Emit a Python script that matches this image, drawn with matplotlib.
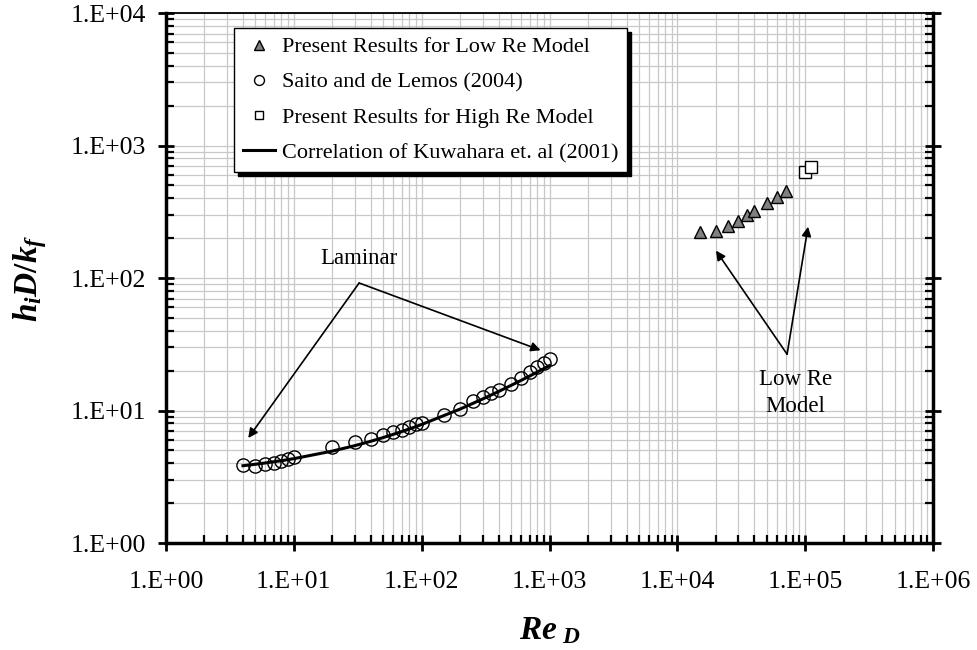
import numpy as np
import matplotlib
matplotlib.use("Agg")
from matplotlib import pyplot as plt
from matplotlib.ticker import LogLocator, FuncFormatter, NullFormatter

plt.rcParams['font.family'] = ['Liberation Serif', 'DejaVu Serif']
plt.rcParams['mathtext.fontset'] = 'custom'
plt.rcParams['mathtext.it'] = 'Liberation Serif:italic:bold'
plt.rcParams['mathtext.rm'] = 'Liberation Serif:bold'
plt.rcParams['mathtext.bf'] = 'Liberation Serif:bold'

# Saito and de Lemos (2004)
re_saito = [4, 5, 6, 7, 8, 9, 10, 20, 30, 40, 50, 60, 70, 80, 90, 100,
            150, 200, 250, 300, 350, 400, 500, 600, 700, 800, 900, 1000]
nu_saito = [3.90, 3.83, 3.95, 3.99, 4.14, 4.28, 4.46, 5.33, 5.75, 6.13, 6.50, 6.85,
            7.17, 7.55, 7.87, 8.0, 9.25, 10.3, 11.8, 12.6, 13.5, 14.3, 15.9, 17.5,
            19.5, 21.2, 23.0, 24.6]

# correlation of Kuwahara et al (2001)
re_corr = [4, 5, 6, 7, 8, 9, 10, 20, 30, 40, 50, 60, 70, 80, 90, 100,
           200, 300, 400, 500, 600, 700, 800, 900, 1000]
nu_corr = [3.83, 3.93, 4.02, 4.11, 4.18, 4.26, 4.33, 4.94, 5.43, 5.86, 6.25, 6.61,
           6.94, 7.26, 7.56, 7.85, 10.26, 12.22, 13.93, 15.48, 16.90, 18.23,
           19.49, 20.69, 21.83]

# present results
re_low = [15000, 20000, 25000, 30000, 35000, 40000, 50000, 60000, 70000]
nu_low = [221, 228, 245, 271, 299, 320, 366, 406, 454]
re_high = [100000, 110000]
nu_high = [630, 690]

fig = plt.figure(figsize=(9.78, 6.5), dpi=100)
ax = fig.add_axes([0.1697, 0.1646, 0.7845, 0.8154])
ax.set_xscale('log')
ax.set_yscale('log')
ax.set_xlim(1, 1e6)
ax.set_ylim(1, 1e4)

ax.grid(True, which='both', color='#c8c8c8', lw=0.9, zorder=0)
ax.set_axisbelow(True)

ax.plot(re_low, nu_low, '^', ms=9, mfc='#808080', mec='black', mew=1.0,
        label='Present Results for Low Re Model', zorder=4)
ax.plot(re_saito, nu_saito, 'o', ms=9.5, mfc='none', mec='black', mew=1.0,
        label='Saito and de Lemos (2004)', zorder=3)
ax.plot(re_high, nu_high, 's', ms=8, mfc='white', mec='black', mew=1.0,
        label='Present Results for High Re Model', zorder=4)
ax.plot(re_corr, nu_corr, '-', color='black', lw=2.2,
        label='Correlation of Kuwahara et. al (2001)', zorder=3)

# annotations
arr = dict(arrowstyle='-|>', color='black', lw=1.2, mutation_scale=14, shrinkA=0, shrinkB=0)
ax.annotate('', xy=(4.4, 6.2), xytext=(32.4, 91.7), arrowprops=arr)
ax.annotate('', xy=(850, 28.5), xytext=(32.4, 91.7), arrowprops=arr)
ax.text(32, 116, 'Laminar', ha='center', va='bottom', fontsize=16.5)

ax.annotate('', xy=(20000, 161), xytext=(72000, 26.6), arrowprops=arr)
ax.annotate('', xy=(105000, 244), xytext=(72000, 26.6), arrowprops=arr)
ax.text(83500, 13.6, 'Low Re\nModel', ha='center', va='center', fontsize=16.5,
        linespacing=1.4)

ax.xaxis.set_major_locator(LogLocator(base=10, numticks=10))
ax.yaxis.set_major_locator(LogLocator(base=10, numticks=10))
ax.xaxis.set_minor_locator(LogLocator(base=10, subs=np.arange(2, 10), numticks=20))
ax.yaxis.set_minor_locator(LogLocator(base=10, subs=np.arange(2, 10), numticks=20))
fmt = FuncFormatter(lambda v, _: '1.E+%02d' % int(round(np.log10(v))))
ax.xaxis.set_major_formatter(fmt)
ax.yaxis.set_major_formatter(fmt)
ax.xaxis.set_minor_formatter(NullFormatter())
ax.yaxis.set_minor_formatter(NullFormatter())

ax.tick_params(which='major', direction='inout', length=12, width=2, labelsize=18.5,
               top=False, right=True)
ax.tick_params(axis='x', which='major', pad=14)
ax.tick_params(axis='y', which='major', pad=8)
ax.tick_params(which='minor', direction='in', length=6, width=1.6, top=False, right=True)

for side in ['left', 'bottom', 'right']:
    ax.spines[side].set_linewidth(2.5)
ax.spines['top'].set_linewidth(1.3)

ax.set_xlabel('$Re_{\\ D}$', fontsize=24, labelpad=16)
ax.set_ylabel('$h_iD/k_f$', fontsize=24, labelpad=16)

leg = ax.legend(loc='upper left', bbox_to_anchor=(0.0887, 0.9717), borderaxespad=0,
                fontsize=16, frameon=True, fancybox=False, edgecolor='black',
                shadow={'color': 'black', 'alpha': 1.0, 'ox': 3, 'oy': -3},
                handlelength=1.45, handletextpad=0.3, labelspacing=0.66,
                markerscale=0.75, borderpad=0.4)
leg.get_frame().set_linewidth(1.0)

fig.savefig('out.png', dpi=100)
